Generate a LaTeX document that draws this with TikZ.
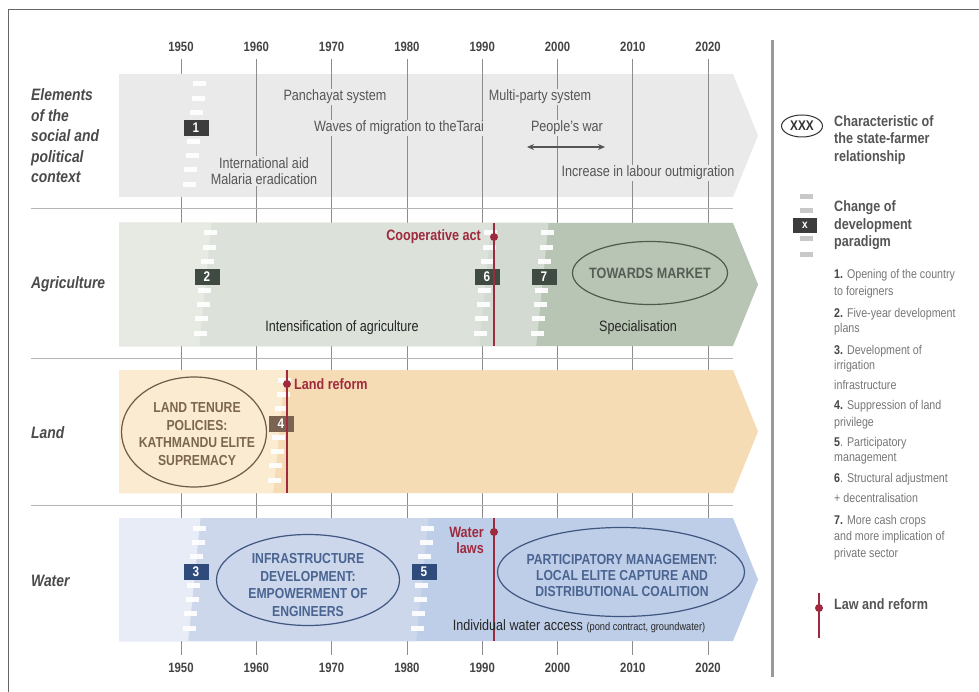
\documentclass[tikz,border=0pt]{standalone}
\usepackage{fontspec}
\setmainfont{Liberation Sans}[FakeStretch=0.84]
\usetikzlibrary{shapes.geometric,arrows.meta}

\definecolor{ctxband}{HTML}{EAEAEA}
\definecolor{ctxtext}{HTML}{555555}
\definecolor{agri1}{HTML}{E6EAE3}
\definecolor{agri2}{HTML}{DCE1DA}
\definecolor{agri3}{HTML}{D3DAD1}
\definecolor{agri4}{HTML}{B9C5B4}
\definecolor{land1}{HTML}{FBECD1}
\definecolor{land2}{HTML}{F5DCB4}
\definecolor{water1}{HTML}{E7ECF6}
\definecolor{water2}{HTML}{CCD7EB}
\definecolor{water3}{HTML}{BFCEE8}
\definecolor{lawc}{HTML}{9E2A3E}
\definecolor{agrbox}{HTML}{3E4A42}
\definecolor{ctxbox}{HTML}{3C3C3C}
\definecolor{landbox}{HTML}{7A6350}
\definecolor{waterbox}{HTML}{2F4B7C}
\definecolor{landtext}{HTML}{7D6650}
\definecolor{landline}{HTML}{6E5A48}
\definecolor{watertext}{HTML}{4A6491}
\definecolor{waterline}{HTML}{3E5680}
\definecolor{towtext}{HTML}{555D54}
\definecolor{towline}{HTML}{4F5A4D}
\definecolor{rowc}{HTML}{4A4A4A}
\definecolor{yearc}{HTML}{444444}
\definecolor{gridc}{HTML}{8C8C8C}
\definecolor{sepc}{HTML}{B4B4B4}
\definecolor{listc}{HTML}{777777}
\definecolor{legc}{HTML}{555555}
\definecolor{legbar}{HTML}{C8C8C8}

\newcommand\fs[2]{\fontsize{#1}{#2}\selectfont}
\newcommand\chg[5]{%
  \foreach \o in {10,24.3,38.6,67.2,81.5,95.8,110.1}{\fill[white,opacity=.92] ({#2-0.1*(\o-10)},{#3+\o-2.5}) rectangle ++(13,5);}
  \node[chgbox,fill=#4] (#1) at ({#2+3},{#3+54}) {#5};}
\newcommand\lefthalf[4]{\fill[#1] (119,#2) -- ({#4+7.5},#2) -- ({#4-4.8},#3) -- (119,#3) -- cycle;}
\newcommand\bandshape[3]{\fill[#1] (119,#2) -- (733,#2) -- (758,{(#2+#3)/2}) -- (733,#3) -- (119,#3) -- cycle;}

\begin{document}
\begin{tikzpicture}[x=1pt,y=-1pt,
  yearlbl/.style={font=\fs{13.5}{15}\bfseries, text=yearc, inner sep=0pt},
  ctxtxt/.style={font=\fs{15}{16.5}, text=ctxtext, fill=ctxband, inner sep=1.5pt, align=center},
  rowlbl/.style={font=\fs{16.5}{20.5}\bfseries\itshape, text=rowc, anchor=west, align=left, inner sep=0pt},
  chgbox/.style={minimum width=25pt, minimum height=16pt, inner sep=0pt, text=white, font=\fs{14}{14}\bfseries},
  gridline/.style={draw=gridc, line width=0.8pt},
  sepline/.style={draw=sepc, line width=1pt},
  law/.style={draw=lawc, line width=1.5pt},
  lawdot/.style={circle, fill=lawc, inner sep=0pt, minimum size=8pt},
  lawtxt/.style={font=\fs{15}{16}\bfseries, text=lawc, inner sep=0pt},
  bandtxt/.style={font=\fs{15}{17}, text=black!85, inner sep=0pt},
  ell/.style={ellipse, draw, line width=1.2pt, inner sep=0pt},
  elltxt/.style={font=\fs{14.5}{17.5}\bfseries, align=center, inner sep=0pt},
  legtitle/.style={font=\fs{15}{17.5}\bfseries, text=legc, anchor=west, align=left, inner sep=0pt},
  listtxt/.style={font=\fs{12.7}{14}, text=listc, anchor=base west, inner sep=0pt}
]
\path[use as bounding box] (0,0) rectangle (979,692);
\fill[white] (0,0) rectangle (979,692);
% frame
\draw[black!60, line width=0.8pt] (979,9) -- (8,9) -- (8,692);

% year grid lines and labels
\foreach \yr [count=\i] in {1950,1960,...,2020}{
  \pgfmathsetmacro\xx{181+7.53*(\yr-1950)}
  \coordinate (gt\i) at (\xx,59);
  \coordinate (gb\i) at (\xx,655);
  \draw[gridline] (gt\i) -- (gb\i);
  \node[yearlbl] (yt\i) at (\xx,47) {\yr};
  \node[yearlbl] (yb\i) at (\xx,668) {\yr};
}
% separators
\foreach \y [count=\i] in {209,358,505}{
  \coordinate (sl\i) at (31,\y); \coordinate (sr\i) at (733,\y);
  \draw[sepline] (sl\i) -- (sr\i);
}

% bands
\bandshape{ctxband}{74}{197}
\bandshape{agri4}{223}{346}
\lefthalf{agri3}{223}{346}{541}
\lefthalf{agri2}{223}{346}{484}
\lefthalf{agri1}{223}{346}{204}
\bandshape{land2}{370}{493}
\lefthalf{land1}{370}{493}{278}
\bandshape{water3}{518}{641}
\lefthalf{water2}{518}{641}{421}
\lefthalf{water1}{518}{641}{193}

% grid lines over the context band
\foreach \i in {2,...,8}{
  \pgfmathsetmacro\xx{181+75.3*(\i-1)}
  \draw[gridline] (\xx,74) -- (\xx,197);
}

% change markers
\chg{m1}{193}{74}{ctxbox}{1}
\chg{m2}{204}{223}{agrbox}{2}
\chg{m6}{484}{223}{agrbox}{6}
\chg{m7}{541}{223}{agrbox}{7}
\chg{m4}{278}{370}{landbox}{4}
\chg{m3}{193}{518}{waterbox}{3}
\chg{m5}{421}{518}{waterbox}{5}

% laws
\coordinate (coopT) at (494,223); \coordinate (coopB) at (494,346);
\draw[law] (coopT) -- (coopB);
\node[lawdot] (coopdot) at (494,237) {};
\node[lawtxt, anchor=east] (cooplbl) at (481,237) {Cooperative act};

\coordinate (landT) at (287,370); \coordinate (landB) at (287,493);
\draw[law] (landT) -- (landB);
\node[lawdot] (landdot) at (287,384) {};
\node[lawtxt, anchor=west] (landlbl) at (294,384) {Land reform};

\coordinate (watT) at (494,518); \coordinate (watB) at (494,641);
\draw[law] (watT) -- (watB);
\node[lawdot] (watdot) at (494,532) {};
\node[lawtxt, anchor=east, align=right] (watlbl) at (484,540) {Water\\laws};

% context texts
\node[ctxtxt] (panch) at (335,97) {Panchayat system};
\node[ctxtxt] (waves) at (399,128) {Waves of migration to theTarai};
\node[ctxtxt] (multi) at (540,97) {Multi-party system};
\node[ctxtxt] (pwar) at (567,128) {People's war};
\coordinate (pwL) at (527,147); \coordinate (pwR) at (605,147);
\draw[ctxtext, line width=1.3pt, {Stealth[length=7pt,width=6pt]}-{Stealth[length=7pt,width=6pt]}] (pwL) -- (pwR);
\node[ctxtxt] (outmig) at (648,173) {Increase in labour outmigration};
\node[ctxtxt] (intaid) at (264,171) {International aid\\Malaria eradication};

% agriculture texts
\node[bandtxt] (intens) at (342,328) {Intensification of agriculture};
\node[bandtxt] (special) at (638,328) {Specialisation};
\node[ell, draw=towline, minimum width=155pt, minimum height=63pt] (towell) at (650,273) {};
\node[elltxt, text=towtext, font=\fs{15}{17}\bfseries] (towtxt) at (towell) {TOWARDS MARKET};

% land ellipse
\node[ell, draw=landline, minimum width=145pt, minimum height=110pt] (landell) at (194,432) {};
\node[elltxt, text=landtext] (landtxt) at (197,434) {LAND TENURE\\POLICIES:\\KATHMANDU ELITE\\SUPREMACY};

% water ellipses
\node[ell, draw=waterline, minimum width=183pt, minimum height=91pt] (infell) at (308,580) {};
\node[elltxt, text=watertext] (inftxt) at (308,585) {INFRASTRUCTURE\\DEVELOPMENT:\\EMPOWERMENT OF\\ENGINEERS};
\node[ell, draw=waterline, minimum width=247pt, minimum height=89pt] (partell) at (621,572) {};
\node[elltxt, text=watertext, font=\fs{14.5}{16}\bfseries] (parttxt) at (622,576) {PARTICIPATORY MANAGEMENT:\\LOCAL ELITE CAPTURE AND\\DISTRIBUTIONAL COALITION};
\node[bandtxt] (indiv) at (579,626) {Individual water access {\fs{11}{12}(pond contract, groundwater)}};

% row labels
\node[rowlbl] (rctx) at (31,136) {Elements\\of the\\social and\\political\\context};
\node[rowlbl] (ragri) at (31,284) {Agriculture};
\node[rowlbl] (rland) at (31,433) {Land};
\node[rowlbl] (rwater) at (31,581) {Water};

% legend
\coordinate (legT) at (772,40); \coordinate (legB) at (772,677);
\draw[draw=black!40, line width=3pt] (legT) -- (legB);
\node[ellipse, draw=black!80, line width=1pt, minimum width=41pt, minimum height=22pt, inner sep=0pt] (xxxell) at (802,126) {};
\node[font=\fs{14}{14}\bfseries, text=black!80, inner sep=0pt] (xxxtxt) at (xxxell) {XXX};
\node[legtitle] (legchar) at (834,140) {Characteristic of\\the state-farmer\\relationship};

\foreach \y in {197,211,239,255}{\fill[legbar] (800,{\y-2.5}) rectangle ++(13,5);}
\node[chgbox, fill=ctxbox, minimum width=24pt, minimum height=15pt, font=\fs{12}{12}\bfseries] (legx) at (805,225.5) {x};
\node[legtitle] (legchg) at (834,225.5) {Change of\\development\\paradigm};

\foreach \y/\t [count=\i] in {
  279/{\textcolor{yearc}{\textbf{1.}} Opening of the country},
  296/{to foreigners},
  317/{\textcolor{yearc}{\textbf{2.}} Five-year development},
  333/{plans},
  354/{\textcolor{yearc}{\textbf{3.}} Development of},
  369/{irrigation},
  389/{infrastructure},
  409/{\textcolor{yearc}{\textbf{4.}} Suppression of land},
  426/{privilege},
  446/{\textcolor{yearc}{\textbf{5}}. Participatory},
  461/{management},
  482/{\textcolor{yearc}{\textbf{6}}. Structural adjustment},
  502/{+ decentralisation},
  524/{\textcolor{yearc}{\textbf{7.}} More cash crops},
  540/{and more implication of},
  557/{private sector}}{
  \node[listtxt] (li\i) at (834,\y) {\t};
}

\coordinate (lawlegT) at (819,593); \coordinate (lawlegB) at (819,638);
\draw[law] (lawlegT) -- (lawlegB);
\node[lawdot] (lawlegdot) at (819,608) {};
\node[legtitle] (lawleg) at (834,604) {Law and reform};
\end{tikzpicture}
\end{document}
